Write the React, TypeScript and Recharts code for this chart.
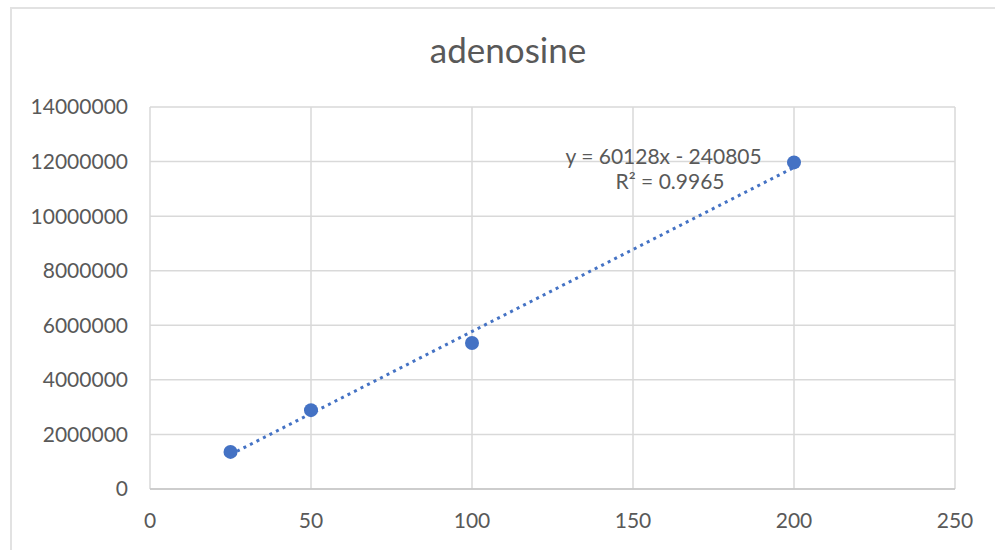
import React from 'react';
import { ScatterChart, Scatter, XAxis, YAxis, CartesianGrid, ReferenceDot } from 'recharts';

const concentrations = [25, 50, 100, 200];
const peakAreas = [1360000, 2890000, 5350000, 11970000];
const xTicks = [0, 50, 100, 150, 200, 250];
const yTicks = [0, 2000000, 4000000, 6000000, 8000000, 10000000, 12000000, 14000000];
const slope = 60128;
const intercept = -240805;
const trendXs = [25, 200];
const equationText = 'y = 60128x - 240805';
const r2Text = 'R² = 0.9965';
const titleText = 'adenosine';

const points = concentrations.map((x, i) => ({ x, y: peakAreas[i] }));
const trend = trendXs.map((x) => ({ x, y: slope * x + intercept }));

const FONT = 'Lato, "Open Sans", sans-serif';
const TEXT = '#595959';
const BLUE = '#4472C4';

export default function App() {
  return (
    <div style={{ position: 'absolute', left: 0, top: 0, width: 995, height: 550, background: '#fff', overflow: 'hidden' }}>
      <div style={{ position: 'absolute', left: 10, top: 7, width: 1000, height: 560, border: '2px solid #e2e2e2', boxSizing: 'border-box' }} />
      <div style={{ position: 'absolute', left: 0, top: 28, width: 1016, textAlign: 'center', fontFamily: FONT, fontSize: 35, color: TEXT }}>
        {titleText}
      </div>
      <div style={{ position: 'absolute', left: 0, top: 0 }}>
        <ScatterChart width={995} height={550} margin={{ top: 107, right: 40, bottom: 0, left: 0 }}>
          <CartesianGrid stroke="#d9d9d9" strokeWidth={1.5} />
          <XAxis
            type="number"
            dataKey="x"
            domain={[0, 250]}
            ticks={xTicks}
            height={61}
            tickSize={0}
            tickMargin={24}
            axisLine={{ stroke: '#c6c6c6', strokeWidth: 1.5 }}
            tick={{ fill: TEXT, fontFamily: FONT, fontSize: 21 }}
            allowDataOverflow
          />
          <YAxis
            type="number"
            dataKey="y"
            domain={[0, 14000000]}
            ticks={yTicks}
            width={150}
            tickSize={0}
            tickMargin={22}
            axisLine={false}
            tick={{ fill: TEXT, fontFamily: FONT, fontSize: 21 }}
            allowDataOverflow
          />
          <Scatter data={points} fill={BLUE} isAnimationActive={false} shape={(p: any) => <circle cx={p.cx} cy={p.cy} r={7} fill={BLUE} />} />
          <Scatter
            data={trend}
            isAnimationActive={false}
            line={{ stroke: BLUE, strokeWidth: 3, strokeDasharray: '3 4.3' }}
            shape={() => <g />}
          />
          <ReferenceDot x={159.5} y={12200000} r={0} fill="none" stroke="none"
            label={{ value: equationText, position: 'center', fill: TEXT, fontFamily: FONT, fontSize: 21 }} />
          <ReferenceDot x={161.5} y={11250000} r={0} fill="none" stroke="none"
            label={{ value: r2Text, position: 'center', fill: TEXT, fontFamily: FONT, fontSize: 21 }} />
        </ScatterChart>
      </div>
    </div>
  );
}
